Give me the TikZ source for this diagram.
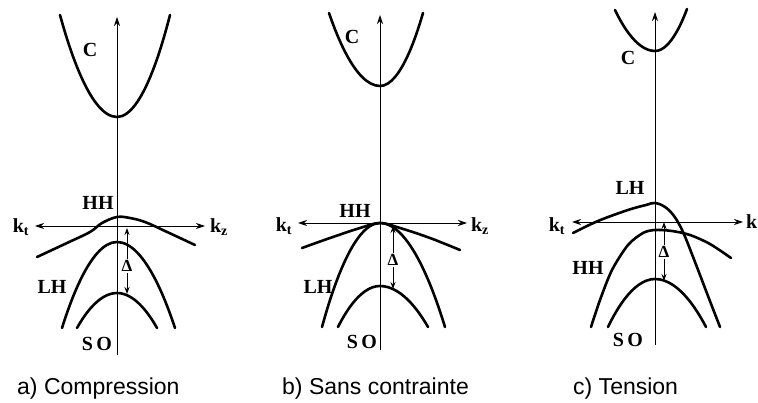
\documentclass[tikz,border=0pt]{standalone}
\usepackage{fontspec}
\setmainfont{Liberation Serif}
\newfontfamily\capfont{Liberation Sans}
\usetikzlibrary{arrows.meta}

\begin{document}
\begin{tikzpicture}[
    x=1pt, y=-1pt,
    band/.style={line width=2.6pt, line cap=round},
    axis/.style={line width=0.9pt, -{Stealth[length=9pt, width=6pt]}},
    kaxis/.style={line width=0.9pt, {Stealth[length=9pt, width=6pt]}-{Stealth[length=9pt, width=6pt]}},
    gap/.style={line width=1pt, -{Stealth[length=7pt, width=5pt]}},
    lbl/.style={font=\fontsize{20}{22}\selectfont\bfseries, inner sep=0pt},
    klbl/.style={font=\fontsize{20}{22}\selectfont\bfseries, inner sep=0pt},
    dlt/.style={font=\fontsize{17}{18}\selectfont\bfseries, inner sep=1pt, fill=white},
    caption/.style={font=\capfont\fontsize{23}{25}\selectfont, anchor=base west, inner sep=0pt}
]
\useasboundingbox (0,0) rectangle (758,403);

% -------------------------
% a) Compression
% -------------------------
\coordinate (aBot) at (117,355);
\coordinate (aTop) at (117,17);
\coordinate (aLeft) at (35,226);
\coordinate (aRight) at (205,226);
\draw[axis] (aBot) -- (aTop);
\draw[kaxis] (aLeft) -- (aRight);
\node[klbl] (akt) at (21,227) {k\textsubscript{t}};
\node[klbl] (akz) at (219,227) {k\textsubscript{z}};

\draw[band] (60,15) parabola bend (117,117) (170,15); % C
\draw[band] plot[smooth, tension=0.6] coordinates {(37,257) (67,243) (90,232) (102,223) (117,217) (130,218) (145,222) (165,231) (195,245)}; % HH
\draw[band] (62,328) parabola bend (117,242) (175,328); % LH
\draw[band] (77,328) parabola bend (117,293) (157,328); % SO

\node[lbl] (aC) at (90,50) {C};
\node[lbl] (aHH) at (98,203) {HH};
\node[lbl] (aLH) at (52,287) {LH};
\node[lbl] (aSO) at (97,344) {S\,O};

\node[dlt] (aD) at (127,266) {Δ};
\coordinate (aUp) at (127,228);
\coordinate (aDown) at (127,294);
\draw[gap] (aD) -- (aUp);
\draw[gap] (aD) -- (aDown);

% -------------------------
% b) Sans contrainte
% -------------------------
\coordinate (bBot) at (380,350);
\coordinate (bTop) at (380,15);
\coordinate (bLeft) at (298,223);
\coordinate (bRight) at (467,223);
\draw[axis] (bBot) -- (bTop);
\draw[kaxis] (bLeft) -- (bRight);
\node[klbl] (bkt) at (284,226) {k\textsubscript{t}};
\node[klbl] (bkz) at (480,226) {k\textsubscript{z}};

\draw[band] (329,13) parabola bend (380,86) (423,13); % C
\draw[band] plot[smooth, tension=0.6] coordinates {(302,248) (330,238) (360,228) (380,223) (400,228) (430,238) (460,250)}; % HH
\draw[band] (322,327) parabola bend (380,223) (445,327); % LH
\draw[band] (338,327) parabola bend (380,286) (428,327); % SO

\node[lbl] (bC) at (352,37) {C};
\node[lbl] (bHH) at (355,211) {HH};
\node[lbl] (bLH) at (318,287) {LH};
\node[lbl] (bSO) at (362,342) {S\,O};

\node[dlt] (bD) at (393,260) {Δ};
\coordinate (bUp) at (393,226);
\coordinate (bDown) at (393,289);
\draw[gap] (bD) -- (bUp);
\draw[gap] (bD) -- (bDown);

% -------------------------
% c) Tension
% -------------------------
\coordinate (cBot) at (655,345);
\coordinate (cTop) at (655,12);
\coordinate (cLeft) at (572,222);
\coordinate (cRight) at (743,222);
\draw[axis] (cBot) -- (cTop);
\draw[kaxis] (cLeft) -- (cRight);
\node[klbl] (ckt) at (557,226) {k\textsubscript{t}};
\node[klbl, anchor=west] (ckz) at (746,222) {k};

\draw[band] (615,10) parabola bend (655,51) (687,9); % C
\draw[band] plot[smooth, tension=0.6] coordinates {(573,233) (598,221) (628,210) (646,205) (655,203) (665,207) (674,216) (683,232) (695,262) (708,296) (720,327)}; % LH
\draw[band] plot[smooth, tension=0.5] coordinates {(591,327) (600,300) (612,270) (628,245) (643,233) (655,230) (672,231) (690,235) (710,244) (731,258)}; % HH
\draw[band] (608,327) parabola bend (655,279) (706,327); % SO

\node[lbl] (cC) at (628,58) {C};
\node[lbl] (cLH) at (630,188) {LH};
\node[lbl] (cHH) at (588,268) {HH};
\node[lbl] (cSO) at (628,340) {S\,O};

\node[dlt] (cD) at (664,252) {Δ};
\coordinate (cUp) at (664,222);
\coordinate (cDown) at (664,281);
\draw[gap] (cD) -- (cUp);
\draw[gap] (cD) -- (cDown);

% -------------------------
% Captions
% -------------------------
\node[caption] (capA) at (17,394) {a) Compression};
\node[caption] (capB) at (282,394) {b) Sans contrainte};
\node[caption] (capC) at (573,394) {c) Tension};

\end{tikzpicture}
\end{document}
